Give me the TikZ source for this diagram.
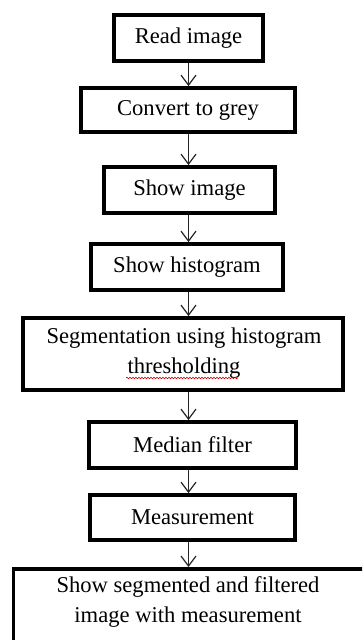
\documentclass[tikz,border=0pt]{standalone}
\usepackage{fontspec}
\setmainfont{Liberation Serif}
\usetikzlibrary{arrows.meta,decorations.pathmorphing}
\begin{document}
\begin{tikzpicture}[x=1pt, y=-1pt,
  stepbox/.style={draw=black, line width=3.8pt, rectangle, inner sep=0pt,
    align=center, font=\fontsize{22.6}{30}\selectfont},
  txt/.style={inner sep=0pt, align=center, font=\fontsize{22.6}{30}\selectfont},
  flow/.style={draw=black!85, line width=1.2pt,
    -{Straight Barb[length=10pt, width=15pt, line width=1.2pt]}}]
  \useasboundingbox (0,0) rectangle (362,640);
  \clip (0,0) rectangle (362,640);
  \fill[white] (0,0) rectangle (362,640);
  \coordinate (axis) at (188.5,0);

  % process steps
  \node[stepbox, minimum width=149pt, minimum height=46pt] (n1) at (188.5,38) {Read image};
  \node[stepbox, minimum width=214pt, minimum height=44pt] (n2) at (188,110) {Convert to grey};
  \node[stepbox, minimum width=171pt, minimum height=46pt] (n3) at (189.5,190) {Show image};
  \node[stepbox, minimum width=192pt, minimum height=46pt] (n4) at (187,267) {Show histogram};
  \node[stepbox, minimum width=320pt, minimum height=72pt] (n5) at (183,354) {};
  \node[txt] (t5) at (184,353) {Segmentation using histogram\\thresholding};
  \node[stepbox, minimum width=207pt, minimum height=46pt] (n6) at (192.5,445) {Median filter};
  \node[stepbox, minimum width=205pt, minimum height=45pt] (n7) at (192.5,517.5) {Measurement};
  % the last step runs past the right and bottom edges of the page
  \node[stepbox, anchor=north west, minimum width=380pt, minimum height=100pt] (n8) at (11.5,567) {};
  \node[txt] (t8) at (188,602) {Show segmented and filtered\\image with measurement};

  % spell-check squiggle under the second line of step 5
  \draw[red!80!black, line width=0.6pt, decorate,
    decoration={snake, amplitude=0.8pt, segment length=3pt}] (126,378) -- (238,378);

  % connectors
  \draw[flow] (n1.south -| axis) -- (n2.north -| axis);
  \draw[flow] (n2.south -| axis) -- (n3.north -| axis);
  \draw[flow] (n3.south -| axis) -- (n4.north -| axis);
  \draw[flow] (n4.south -| axis) -- (n5.north -| axis);
  \draw[flow] (n5.south -| axis) -- (n6.north -| axis);
  \draw[flow] (n6.south -| axis) -- (n7.north -| axis);
  \draw[flow] (n7.south -| axis) -- (n8.north -| axis);
\end{tikzpicture}
\end{document}
